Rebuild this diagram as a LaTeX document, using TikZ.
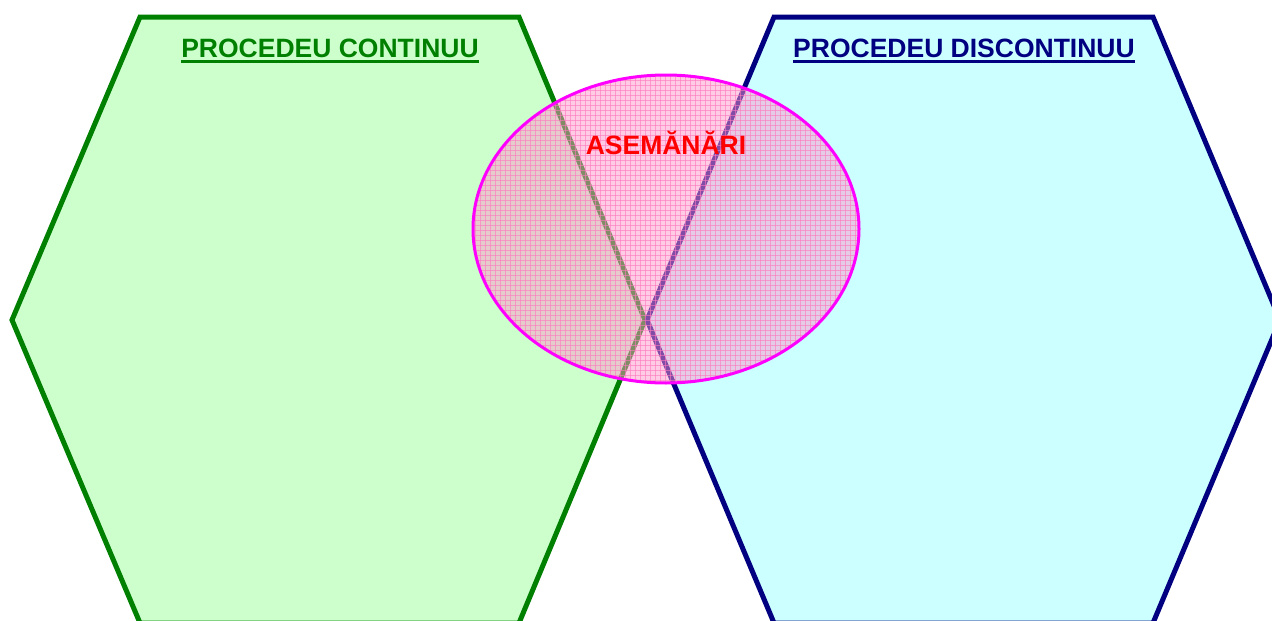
\documentclass[tikz,border=0pt]{standalone}
\usepackage{fontspec}
\setmainfont{Liberation Sans}
\begin{document}
\begin{tikzpicture}[x=1pt,y=-1pt,
  hexleft/.style={draw=leftline,fill=leftfill,line width=5pt,line join=miter},
  hexright/.style={draw=rightline,fill=rightfill,line width=5pt,line join=miter},
  title/.style={font=\fontsize{26.5}{30}\selectfont\bfseries,inner sep=0pt,anchor=base},
  uline/.style={line width=2.4pt}]
\definecolor{leftline}{RGB}{0,128,0}
\definecolor{leftfill}{RGB}{204,255,204}
\definecolor{rightline}{RGB}{0,0,128}
\definecolor{rightfill}{RGB}{204,255,255}
\definecolor{ellfill}{RGB}{255,153,204}
\definecolor{ellgrid}{RGB}{255,120,190}
\definecolor{ellline}{RGB}{255,0,255}
\useasboundingbox (0,0) rectangle (1272,621);
\fill[white] (0,0) rectangle (1272,621);
% hexagons
\draw[hexleft] (140,17) -- (519,17) -- (645,320) -- (519,623) -- (140,623) -- (12,320) -- cycle;
\draw[hexright] (774,17) -- (1153,17) -- (1280,320) -- (1153,623) -- (774,623) -- (647,320) -- cycle;
% ellipse
\fill[ellfill,opacity=0.5] (666,229) ellipse [x radius=193, y radius=154];
\begin{scope}
  \clip (666,229) ellipse [x radius=193, y radius=154];
  \foreach \gx in {470,475,...,865} \draw[ellgrid,line width=0.6pt,opacity=0.6] (\gx,70) -- (\gx,390);
  \foreach \gy in {70,75,...,390} \draw[ellgrid,line width=0.6pt,opacity=0.6] (468,\gy) -- (864,\gy);
\end{scope}
\draw[ellline,line width=3pt] (666,229) ellipse [x radius=193, y radius=154];
% titles
\node[title,text=leftline] (tl) at (330,57) {PROCEDEU CONTINUU};
\draw[uline,leftline] ([yshift=-4pt]tl.south west) -- ([yshift=-4pt]tl.south east);
\node[title,text=rightline] (tr) at (964,57) {PROCEDEU DISCONTINUU};
\draw[uline,rightline] ([yshift=-4pt]tr.south west) -- ([yshift=-4pt]tr.south east);
\node[title,text=red] (tm) at (666,154) {ASEMĂNĂRI};
\end{tikzpicture}
\end{document}
